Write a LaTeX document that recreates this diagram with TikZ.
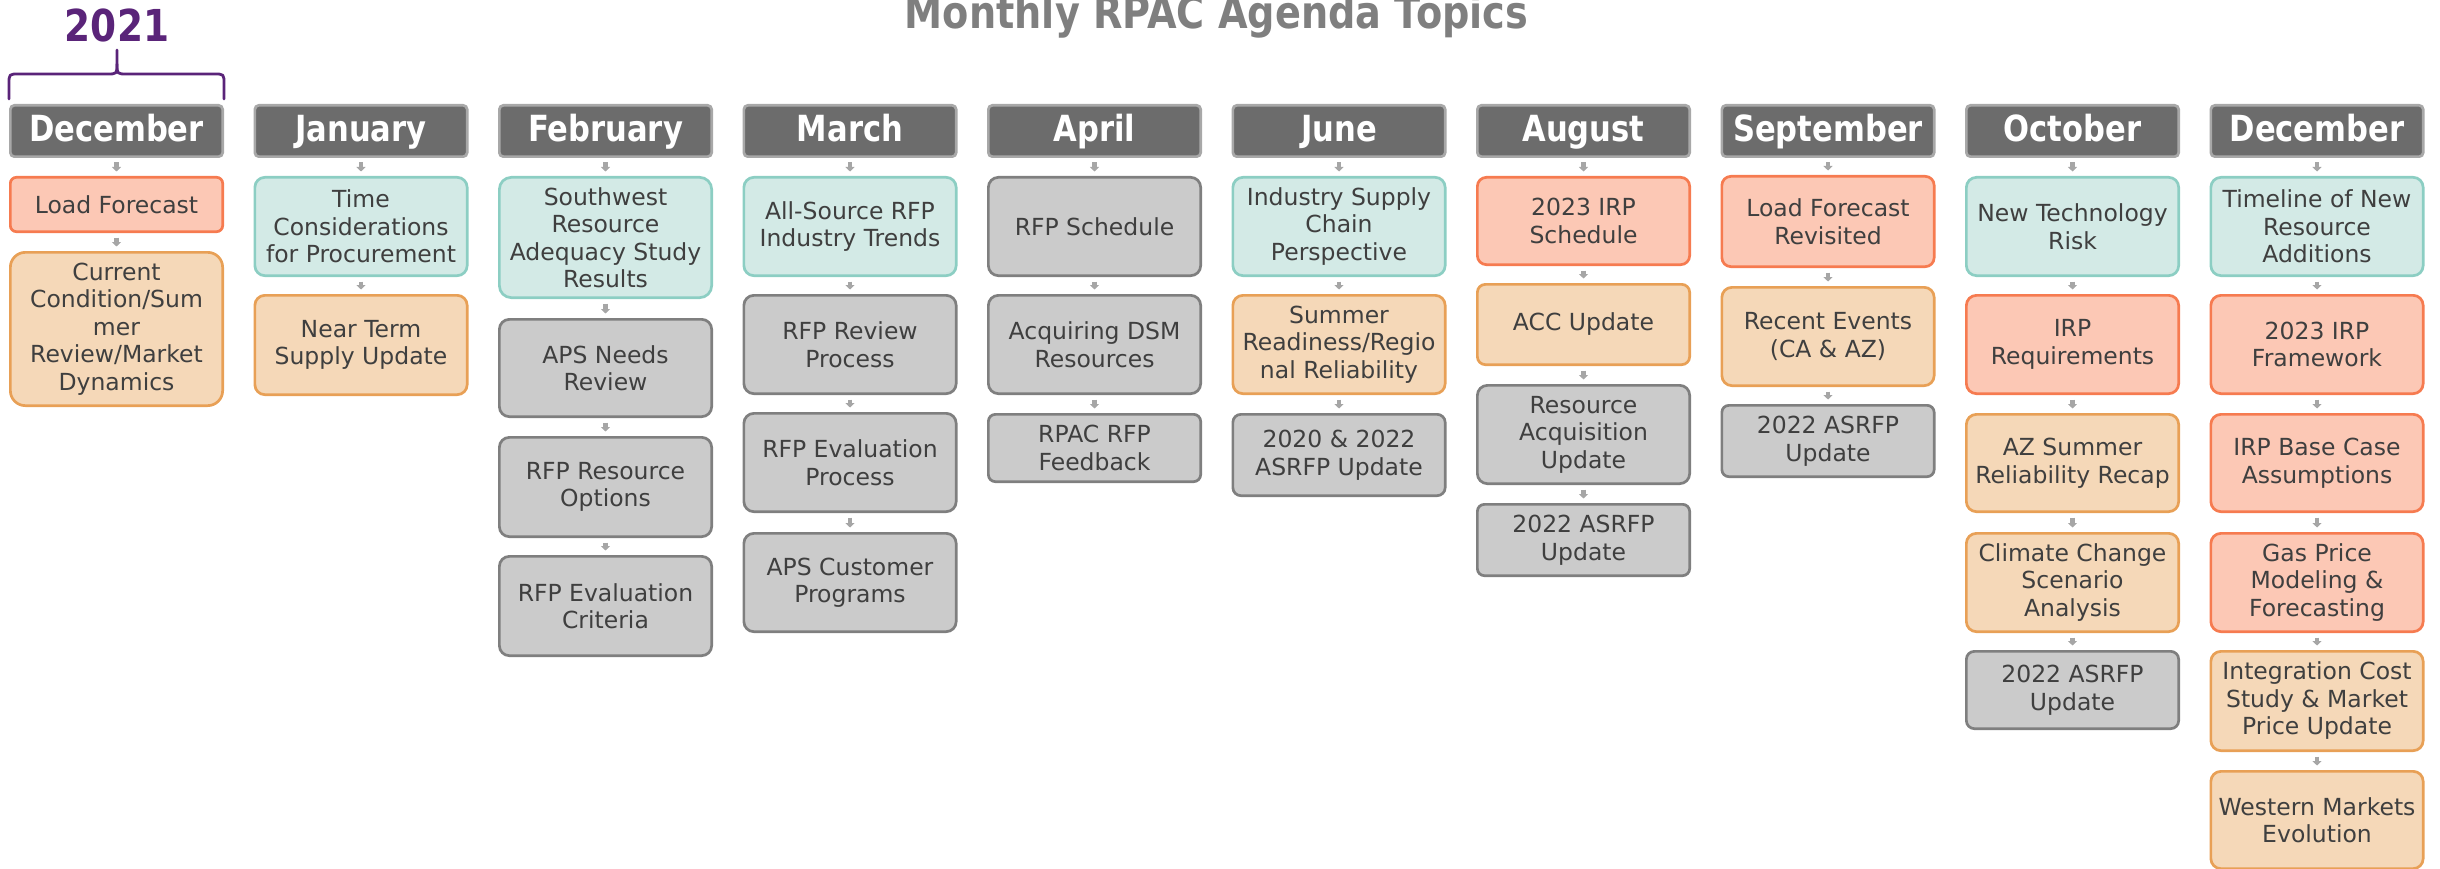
\documentclass[tikz,border=0pt]{standalone}
\usepackage{fontspec}
\setmainfont{DejaVu Sans}
\newfontfamily\hdrfont{DejaVu Sans}[FakeStretch=0.85]
\usetikzlibrary{arrows.meta}
\definecolor{hdrfill}{HTML}{6C6C6C}
\definecolor{hdrline}{HTML}{A8A8A8}
\definecolor{grayfill}{HTML}{CBCBCB}
\definecolor{grayline}{HTML}{7F7F7F}
\definecolor{tealfill}{HTML}{D3EAE6}
\definecolor{tealline}{HTML}{8CCEC3}
\definecolor{salmfill}{HTML}{FCC8B5}
\definecolor{salmline}{HTML}{F67B50}
\definecolor{peachfill}{HTML}{F5D8B8}
\definecolor{peachline}{HTML}{E8A056}
\definecolor{txt}{HTML}{3F3F3F}
\definecolor{purp}{HTML}{5A2479}
\definecolor{titlegray}{HTML}{7F7F7F}
\definecolor{arrgray}{HTML}{A6A6A6}
\tikzset{
  topic/.style={rectangle, rounded corners=10pt, line width=2.7pt, minimum width=212.3pt,
    inner sep=2pt, align=center, text=txt, font=\fontsize{23.5pt}{27.5pt}\selectfont},
  hdr/.style={rectangle, rounded corners=4pt, line width=2.7pt, draw=hdrline, fill=hdrfill,
    minimum width=212.3pt, minimum height=51.3pt, text=white, text height=29pt, text depth=7pt,
    inner sep=0pt, font=\hdrfont\bfseries\fontsize{36pt}{40pt}\selectfont},
  gbox/.style={topic, draw=grayline, fill=grayfill},
  tbox/.style={topic, draw=tealline, fill=tealfill},
  sbox/.style={topic, draw=salmline, fill=salmfill},
  pbox/.style={topic, draw=peachline, fill=peachfill},
  conn/.style={draw=arrgray, line width=4.5pt, -{Triangle[width=9pt,length=4.5pt]}, shorten <=4.5pt, shorten >=4.5pt},
  bracket/.style={draw=purp, line width=2.8pt, line cap=round, line join=round}
}
\begin{document}
\begin{tikzpicture}[x=1pt,y=-1pt]
\useasboundingbox (0,0) rectangle (2440,869);
% title and year
\node[anchor=base, text=titlegray, font=\hdrfont\bfseries\fontsize{45pt}{50pt}\selectfont] (title) at (1216.5,29) {Monthly RPAC Agenda Topics};
\node[anchor=base, text=purp, font=\hdrfont\bfseries\fontsize{44pt}{48pt}\selectfont] (year) at (117,42) {2021};
\draw[bracket] (9,99) -- (9,84) .. controls (9,74) .. (19,74) -- (107,74) .. controls (117,74) .. (117,64) -- (117,50);
\draw[bracket] (224,99) -- (224,84) .. controls (224,74) .. (214,74) -- (127,74) .. controls (117,74) .. (117,64);
% headers
\node[hdr] (h0) at (116.5,131) {December};
\node[hdr] (h1) at (361,131) {January};
\node[hdr] (h2) at (605.5,131) {February};
\node[hdr] (h3) at (850,131) {March};
\node[hdr] (h4) at (1094.5,131) {April};
\node[hdr] (h5) at (1339,131) {June};
\node[hdr] (h6) at (1583.5,131) {August};
\node[hdr] (h7) at (1828,131) {September};
\node[hdr] (h8) at (2072.5,131) {October};
\node[hdr] (h9) at (2317,131) {December};
% December 2021
\node[sbox, minimum height=54.3pt, rounded corners=6pt] (d1) at (116.5,204.5) {Load Forecast};
\node[pbox, minimum height=153.3pt, rounded corners=15pt] (d2) at (116.5,329) {Current\\Condition/Sum\\mer\\Review/Market\\Dynamics};
% January
\node[tbox, minimum height=98.3pt] (j1) at (361,226.5) {Time\\Considerations\\for Procurement};
\node[pbox, minimum height=99.3pt] (j2) at (361,345) {Near Term\\Supply Update};
% February
\node[tbox, minimum height=120.3pt, rounded corners=12pt] (f1) at (605.5,237.5) {Southwest\\Resource\\Adequacy Study\\Results};
\node[gbox, minimum height=97.3pt] (f2) at (605.5,368) {APS Needs\\Review};
\node[gbox, minimum height=99.3pt] (f3) at (605.5,487) {RFP Resource\\Options};
\node[gbox, minimum height=99.3pt] (f4) at (605.5,606) {RFP Evaluation\\Criteria};
% March
\node[tbox, minimum height=98.3pt] (m1) at (850,226.5) {All-Source RFP\\Industry Trends};
\node[gbox, minimum height=98.3pt] (m2) at (850,344.5) {RFP Review\\Process};
\node[gbox, minimum height=98.3pt] (m3) at (850,462.5) {RFP Evaluation\\Process};
\node[gbox, minimum height=98.3pt] (m4) at (850,582.5) {APS Customer\\Programs};
% April
\node[gbox, minimum height=98.3pt] (a1) at (1094.5,226.5) {RFP Schedule};
\node[gbox, minimum height=98.3pt] (a2) at (1094.5,344.5) {Acquiring DSM\\Resources};
\node[gbox, minimum height=67.3pt, rounded corners=7pt] (a3) at (1094.5,448) {RPAC RFP\\Feedback};
% June
\node[tbox, minimum height=98.3pt] (u1) at (1339,226.5) {Industry Supply\\Chain\\Perspective};
\node[pbox, minimum height=98.3pt] (u2) at (1339,344.5) {Summer\\Readiness/Regio\\nal Reliability};
\node[gbox, minimum height=81.3pt, rounded corners=8pt] (u3) at (1339,455) {2020 \& 2022\\ASRFP Update};
% August
\node[sbox, minimum height=87.3pt, rounded corners=9pt] (g1) at (1583.5,221) {2023 IRP\\Schedule};
\node[pbox, minimum height=80.3pt, rounded corners=8pt] (g2) at (1583.5,324.5) {ACC Update};
\node[gbox, minimum height=98.3pt] (g3) at (1583.5,434.5) {Resource\\Acquisition\\Update};
\node[gbox, minimum height=71.3pt, rounded corners=7pt] (g4) at (1583.5,540) {2022 ASRFP\\Update};
% September
\node[sbox, minimum height=90.3pt, rounded corners=9pt] (s1) at (1828,221.5) {Load Forecast\\Revisited};
\node[pbox, minimum height=98.3pt] (s2) at (1828,336.5) {Recent Events\\(CA \& AZ)};
\node[gbox, minimum height=71.3pt, rounded corners=7pt] (s3) at (1828,441) {2022 ASRFP\\Update};
% October
\node[tbox, minimum height=98.3pt] (o1) at (2072.5,226.5) {New Technology\\Risk};
\node[sbox, minimum height=98.3pt] (o2) at (2072.5,344.5) {IRP\\Requirements};
\node[pbox, minimum height=97.3pt] (o3) at (2072.5,463) {AZ Summer\\Reliability Recap};
\node[pbox, minimum height=98.3pt] (o4) at (2072.5,582.5) {Climate Change\\Scenario\\Analysis};
\node[gbox, minimum height=77.3pt, rounded corners=8pt] (o5) at (2072.5,690) {2022 ASRFP\\Update};
% December 2022
\node[tbox, minimum height=98.3pt] (e1) at (2317,226.5) {Timeline of New\\Resource\\Additions};
\node[sbox, minimum height=98.3pt] (e2) at (2317,344.5) {2023 IRP\\Framework};
\node[sbox, minimum height=97.3pt] (e3) at (2317,463) {IRP Base Case\\Assumptions};
\node[sbox, minimum height=98.3pt] (e4) at (2317,582.5) {Gas Price\\Modeling \&\\Forecasting};
\node[pbox, minimum height=99.3pt] (e5) at (2317,701) {Integration Cost\\Study \& Market\\Price Update};
\node[pbox, minimum height=97.3pt] (e6) at (2317,820) {Western Markets\\Evolution};
% connectors
\foreach \a/\b in {h0/d1,d1/d2,
  h1/j1,j1/j2,
  h2/f1,f1/f2,f2/f3,f3/f4,
  h3/m1,m1/m2,m2/m3,m3/m4,
  h4/a1,a1/a2,a2/a3,
  h5/u1,u1/u2,u2/u3,
  h6/g1,g1/g2,g2/g3,g3/g4,
  h7/s1,s1/s2,s2/s3,
  h8/o1,o1/o2,o2/o3,o3/o4,o4/o5,
  h9/e1,e1/e2,e2/e3,e3/e4,e4/e5,e5/e6}
  \draw[conn] (\a) -- (\b);
\end{tikzpicture}
\end{document}
